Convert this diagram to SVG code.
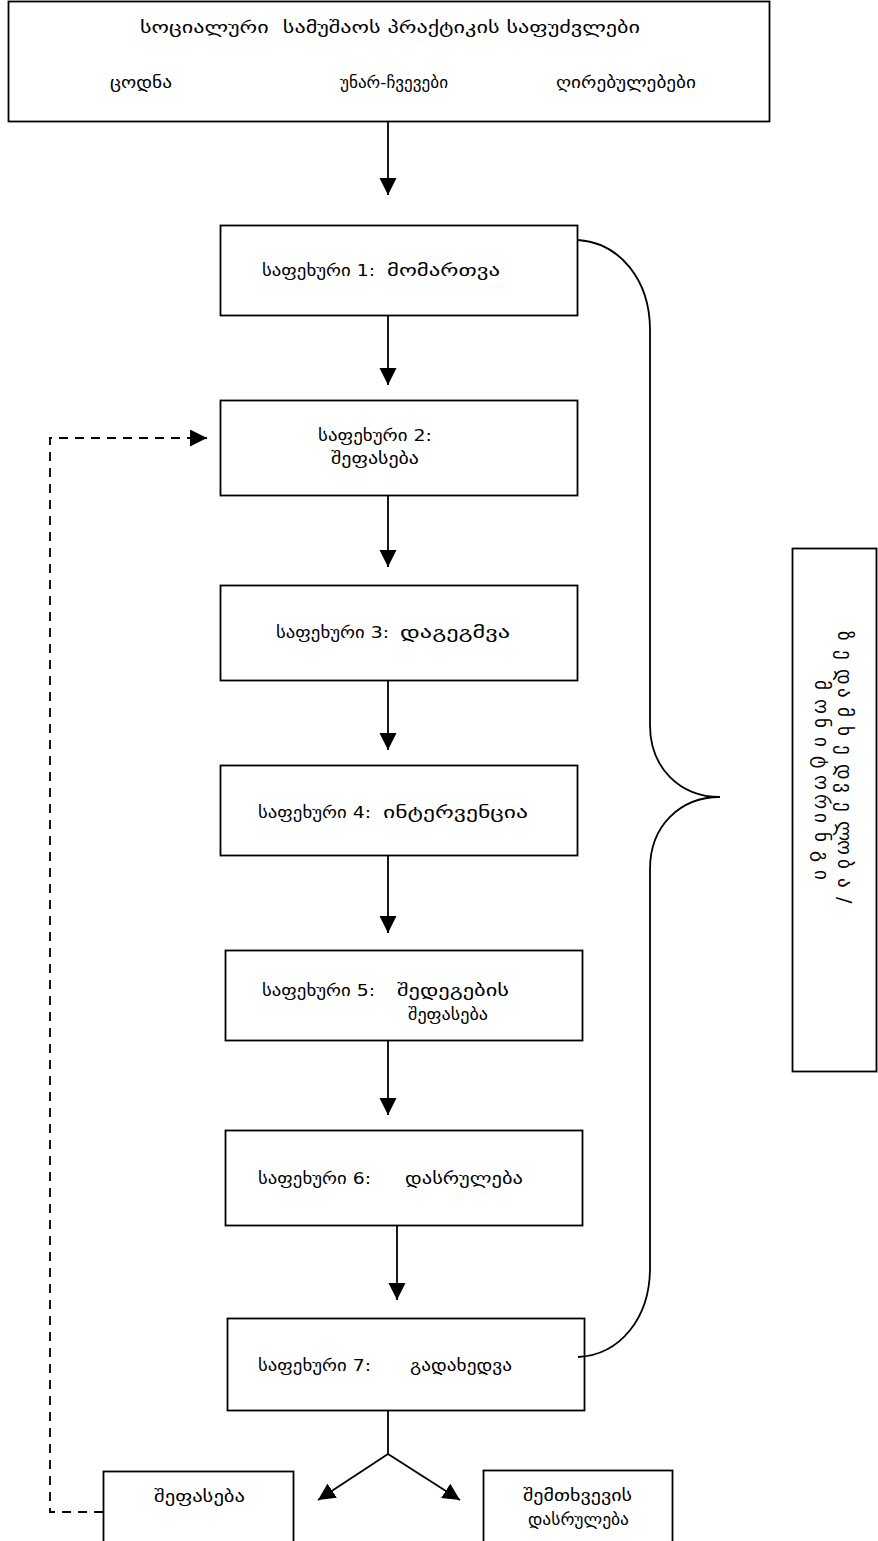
<svg xmlns="http://www.w3.org/2000/svg" width="878" height="1541" viewBox="0 0 878 1541">
<style>
  .box { fill: #fff; stroke: #000; stroke-width: 1.8; }
  .ln { fill: none; stroke: #000; stroke-width: 1.8; }
  .dash { fill: none; stroke: #000; stroke-width: 1.8; stroke-dasharray: 9 7; }
  .t { font-family: "DejaVu Sans", "DejaVu Serif", sans-serif; font-size: 16.5px; fill: #000; }
  .b { font-family: "DejaVu Sans", "DejaVu Serif", sans-serif; font-size: 17px; fill: #000; }
  .v { font-family: "DejaVu Sans", "DejaVu Serif", sans-serif; font-size: 19px; fill: #000; }
</style>
<defs>
  <marker id="ah" markerUnits="userSpaceOnUse" markerWidth="18" markerHeight="18" refX="17" refY="8.5" orient="auto">
    <path d="M0,0 L17,8.5 L0,17 z" fill="#000"/>
  </marker>
</defs>
<rect width="878" height="1541" fill="#fff"/>

<g id="top">
  <rect class="box" x="8.5" y="1.5" width="761" height="120"/>
  <text class="t" x="140" y="33" textLength="500" lengthAdjust="spacingAndGlyphs" xml:space="preserve">სოციალური  სამუშაოს პრაქტიკის საფუძვლები</text>
  <text class="t" x="110" y="88" textLength="62" lengthAdjust="spacingAndGlyphs">ცოდნა</text>
  <text class="t" x="340" y="88" textLength="108" lengthAdjust="spacingAndGlyphs">უნარ-ჩვევები</text>
  <text class="t" x="556" y="88" textLength="140" lengthAdjust="spacingAndGlyphs">ღირებულებები</text>
</g>

<g id="step1">
  <rect class="box" x="220.5" y="225.5" width="357" height="90"/>
  <text class="t" x="262" y="276" textLength="113" lengthAdjust="spacingAndGlyphs">საფეხური 1:</text>
  <text class="b" x="387" y="276" textLength="113" lengthAdjust="spacingAndGlyphs">მომართვა</text>
</g>

<g id="step2">
  <rect class="box" x="220.5" y="400.5" width="357" height="95"/>
  <text class="t" x="318" y="441" textLength="114" lengthAdjust="spacingAndGlyphs">საფეხური 2:</text>
  <text class="b" x="331" y="464" textLength="88" lengthAdjust="spacingAndGlyphs">შეფასება</text>
</g>

<g id="step3">
  <rect class="box" x="220.5" y="585.5" width="357" height="95"/>
  <text class="t" x="276" y="638" textLength="113" lengthAdjust="spacingAndGlyphs">საფეხური 3:</text>
  <text class="b" x="400" y="638" textLength="110" lengthAdjust="spacingAndGlyphs">დაგეგმვა</text>
</g>

<g id="step4">
  <rect class="box" x="220.5" y="765.5" width="357" height="90"/>
  <text class="t" x="258" y="818" textLength="113" lengthAdjust="spacingAndGlyphs">საფეხური 4:</text>
  <text class="b" x="383" y="818" textLength="145" lengthAdjust="spacingAndGlyphs">ინტერვენცია</text>
</g>

<g id="step5">
  <rect class="box" x="225.5" y="950.5" width="357" height="90"/>
  <text class="t" x="262" y="996" textLength="113" lengthAdjust="spacingAndGlyphs">საფეხური 5:</text>
  <text class="b" x="397" y="996" textLength="112" lengthAdjust="spacingAndGlyphs">შედეგების</text>
  <text class="b" x="408" y="1020" textLength="80" lengthAdjust="spacingAndGlyphs">შეფასება</text>
</g>

<g id="step6">
  <rect class="box" x="225.5" y="1130.5" width="357" height="95"/>
  <text class="t" x="258" y="1184" textLength="113" lengthAdjust="spacingAndGlyphs">საფეხური 6:</text>
  <text class="b" x="405" y="1184" textLength="118" lengthAdjust="spacingAndGlyphs">დასრულება</text>
</g>

<g id="step7">
  <rect class="box" x="227.5" y="1318.5" width="357" height="92"/>
  <text class="t" x="258" y="1371" textLength="113" lengthAdjust="spacingAndGlyphs">საფეხური 7:</text>
  <text class="b" x="410" y="1371" textLength="102" lengthAdjust="spacingAndGlyphs">გადახედვა</text>
</g>

<g id="assess">
  <rect class="box" x="103.5" y="1471.5" width="190" height="80"/>
  <text class="b" x="154" y="1502" textLength="91" lengthAdjust="spacingAndGlyphs">შეფასება</text>
</g>

<g id="closure">
  <rect class="box" x="483.5" y="1470.5" width="189" height="80"/>
  <text class="b" x="523" y="1501" textLength="109" lengthAdjust="spacingAndGlyphs">შემთხვევის</text>
  <text class="b" x="528" y="1525" textLength="101" lengthAdjust="spacingAndGlyphs">დასრულება</text>
</g>

<g id="monitor">
  <rect class="box" x="792.5" y="548.5" width="84" height="523"/>
  <text class="v" rotate="90"
    x="838 838 838 838 838 838 838 838 838 838 838 838 838 838 838"
    y="631 650 669 688 707 726 745 764 783 802 821 840 859 878 897">ზედამხედველობა/</text>
  <text class="v" rotate="90"
    x="815 815 815 815 815 815 815 815 815 815 815"
    y="680 699 718 737 756 775 794 813 832 851 870">მონიტორინგი</text>
</g>

<g id="connectors">
  <line class="ln" x1="388" y1="122" x2="388" y2="195" marker-end="url(#ah)"/>
  <line class="ln" x1="388" y1="316" x2="388" y2="385" marker-end="url(#ah)"/>
  <line class="ln" x1="388" y1="496" x2="388" y2="567" marker-end="url(#ah)"/>
  <line class="ln" x1="388" y1="681" x2="388" y2="750" marker-end="url(#ah)"/>
  <line class="ln" x1="388" y1="856" x2="388" y2="933" marker-end="url(#ah)"/>
  <line class="ln" x1="388" y1="1041" x2="388" y2="1115" marker-end="url(#ah)"/>
  <line class="ln" x1="397" y1="1226" x2="397" y2="1300" marker-end="url(#ah)"/>
  <polyline class="ln" points="388,1411 388,1454"/>
  <line class="ln" x1="388" y1="1454" x2="318" y2="1500" marker-end="url(#ah)"/>
  <line class="ln" x1="388" y1="1454" x2="460" y2="1500" marker-end="url(#ah)"/>
  <polyline class="dash" points="103,1512 50,1512 50,438 190,438"/>
  <line class="ln" x1="188" y1="438" x2="207" y2="438" marker-end="url(#ah)"/>
  <path class="ln" d="M578,240 C620,243 650,280 650,330 L650,725 C650,768 680,797 720,797 C680,797 650,826 650,869 L650,1268 C650,1318 620,1355 578,1357"/>
</g>
</svg>
